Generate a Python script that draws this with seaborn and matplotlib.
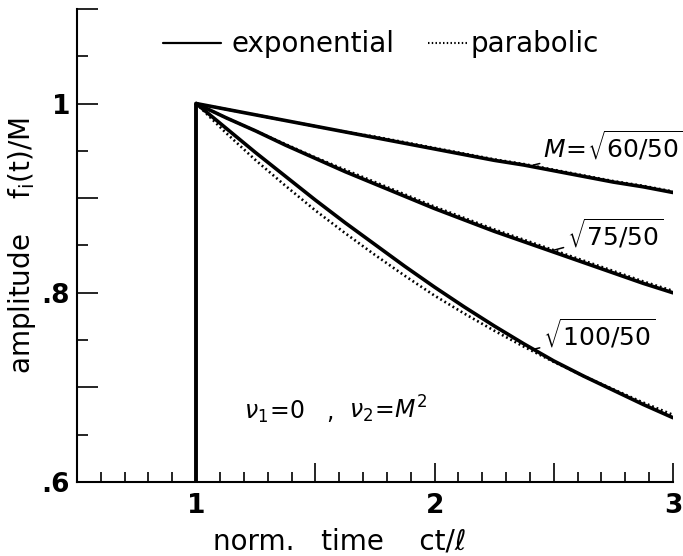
import numpy as np
import pandas as pd
import matplotlib
matplotlib.use("Agg")
import matplotlib.pyplot as plt
from matplotlib.lines import Line2D
from matplotlib.ticker import FixedLocator, FixedFormatter, MultipleLocator
import seaborn as sns

# normalised time ct/l
t = [1.0, 1.125, 1.25, 1.375, 1.5, 1.625, 1.75, 1.875, 2.0,
     2.125, 2.25, 2.375, 2.5, 2.625, 2.75, 2.875, 3.0]

# amplitude f_i(t)/M, exponential and parabolic profiles, for three Mach numbers
exp_60 = [1.000, 0.994, 0.988, 0.982, 0.976, 0.970, 0.964, 0.958, 0.952,
          0.946, 0.940, 0.935, 0.929, 0.923, 0.917, 0.912, 0.906]
par_60 = [1.000, 0.994, 0.988, 0.982, 0.976, 0.970, 0.965, 0.959, 0.953,
          0.947, 0.941, 0.936, 0.930, 0.924, 0.918, 0.913, 0.907]
exp_75 = [1.000, 0.985, 0.971, 0.956, 0.942, 0.928, 0.915, 0.902, 0.889,
          0.877, 0.865, 0.854, 0.843, 0.832, 0.821, 0.810, 0.800]
par_75 = [1.000, 0.985, 0.971, 0.957, 0.943, 0.930, 0.917, 0.904, 0.891,
          0.879, 0.867, 0.856, 0.845, 0.834, 0.823, 0.812, 0.802]
exp_100 = [1.000, 0.974, 0.948, 0.923, 0.898, 0.874, 0.851, 0.828, 0.806,
           0.785, 0.765, 0.746, 0.728, 0.712, 0.697, 0.682, 0.668]
par_100 = [1.000, 0.969, 0.940, 0.913, 0.887, 0.863, 0.840, 0.818, 0.797,
           0.778, 0.760, 0.743, 0.727, 0.712, 0.698, 0.684, 0.671]

onset = 1.0
x_ticklabels = ["", "1", "", "2", "", "3"]
y_ticklabels = [".6", "", ".8", "", "1", ""]

sns.set_theme(style="ticks")
plt.rcParams["font.family"] = ["DejaVu Sans"]
plt.rcParams["mathtext.fontset"] = "dejavusans"
plt.rcParams["text.color"] = "black"
plt.rcParams["axes.labelcolor"] = "black"

fig = plt.figure(figsize=(6.83, 5.56), dpi=100)
ax = fig.add_axes([0.1127, 0.133, 0.8726, 0.851])

ink = "black"
dots = (0, (0.7, 1.1))
frames = []
for name, e, p in [("60", exp_60, par_60), ("75", exp_75, par_75), ("100", exp_100, par_100)]:
    frames.append(pd.DataFrame({"t": t, "amp": e, "case": name, "profile": "exponential"}))
    frames.append(pd.DataFrame({"t": t, "amp": p, "case": name, "profile": "parabolic"}))
df = pd.concat(frames, ignore_index=True)

# switch-on of the source at t = 1
ax.vlines(onset, 0.0, 1.0, color=ink, lw=2.8, zorder=3)

for case in ["60", "75", "100"]:
    sub = df[(df.case == case) & (df.profile == "exponential")]
    sns.lineplot(data=sub, x="t", y="amp", ax=ax, color=ink, lw=2.6,
                 solid_capstyle="round", solid_joinstyle="round", zorder=3, legend=False)
for case in ["60", "75", "100"]:
    sub = df[(df.case == case) & (df.profile == "parabolic")]
    sns.lineplot(data=sub, x="t", y="amp", ax=ax, color=ink, lw=1.9,
                 linestyle=dots, zorder=4, legend=False)

ax.set_xlim(0.5, 3.0)
ax.set_ylim(0.6, 1.1)

# axes frame: only left and bottom, ticks pointing inward
sns.despine(ax=ax)
for s in ["left", "bottom"]:
    ax.spines[s].set_linewidth(1.5)
    ax.spines[s].set_color(ink)

ax.xaxis.set_major_locator(FixedLocator([0.5, 1.0, 1.5, 2.0, 2.5, 3.0]))
ax.xaxis.set_major_formatter(FixedFormatter(x_ticklabels))
ax.xaxis.set_minor_locator(MultipleLocator(0.1))
ax.yaxis.set_major_locator(FixedLocator([0.6, 0.7, 0.8, 0.9, 1.0, 1.1]))
ax.yaxis.set_major_formatter(FixedFormatter(y_ticklabels))
ax.yaxis.set_minor_locator(MultipleLocator(0.05))

ax.tick_params(axis="x", which="major", direction="in", length=14, width=1.2,
               pad=8, labelsize=19, colors=ink)
ax.tick_params(axis="x", which="minor", direction="in", length=7, width=1.2, colors=ink)
ax.tick_params(axis="y", which="major", direction="in", length=15, width=1.2,
               pad=5, labelsize=19, colors=ink)
ax.tick_params(axis="y", which="minor", direction="in", length=8, width=1.2, colors=ink)
for lab in ax.get_xticklabels() + ax.get_yticklabels():
    lab.set_fontweight("bold")

ax.set_xlabel("norm.   time    ct/ℓ", fontsize=20, color=ink)
ax.xaxis.set_label_coords(0.44, -0.095)
ax.set_ylabel(r"amplitude    f$_\mathregular{i}$(t)/M", fontsize=20, color=ink)
ax.yaxis.set_label_coords(-0.066, 0.5)

# two separate key entries, so each handle can have its own length
common = dict(loc="center left", frameon=False, fontsize=20, borderpad=0,
              borderaxespad=0, labelcolor=ink)
leg1 = ax.legend([Line2D([], [], color=ink, lw=1.6)], ["exponential"],
                 bbox_to_anchor=(0.1443, 0.925), handlelength=2.1,
                 handletextpad=0.36, **common)
ax.add_artist(leg1)
ax.legend([Line2D([], [], color=ink, lw=1.5, linestyle=dots)], ["parabolic"],
          bbox_to_anchor=(0.589, 0.925), handlelength=1.4,
          handletextpad=0.12, **common)

arrow = dict(arrowstyle="-", color=ink, lw=1.1, shrinkA=0, shrinkB=0)
ax.annotate(r"$M\!=\!\sqrt{60/50}$", xy=(2.415, 0.935), xytext=(2.455, 0.943),
            fontsize=18, color=ink, ha="left", va="baseline", arrowprops=arrow)
ax.annotate(r"$\sqrt{75/50}$", xy=(2.50, 0.845), xytext=(2.555, 0.850),
            fontsize=18, color=ink, ha="left", va="baseline", arrowprops=arrow)
ax.annotate(r"$\sqrt{100/50}$", xy=(2.41, 0.740), xytext=(2.455, 0.744),
            fontsize=18, color=ink, ha="left", va="baseline", arrowprops=arrow)

# Stokes parameters of the two layers
ax.text(1.2, 0.667, r"$\nu_1\!=\!0$", fontsize=17, color=ink, ha="left", va="baseline")
ax.text(1.545, 0.667, ",", fontsize=17, color=ink, ha="left", va="baseline")
ax.text(1.64, 0.667, r"$\nu_2\!=\!M^2$", fontsize=17, color=ink, ha="left", va="baseline")

fig.savefig("out.png", dpi=100)
